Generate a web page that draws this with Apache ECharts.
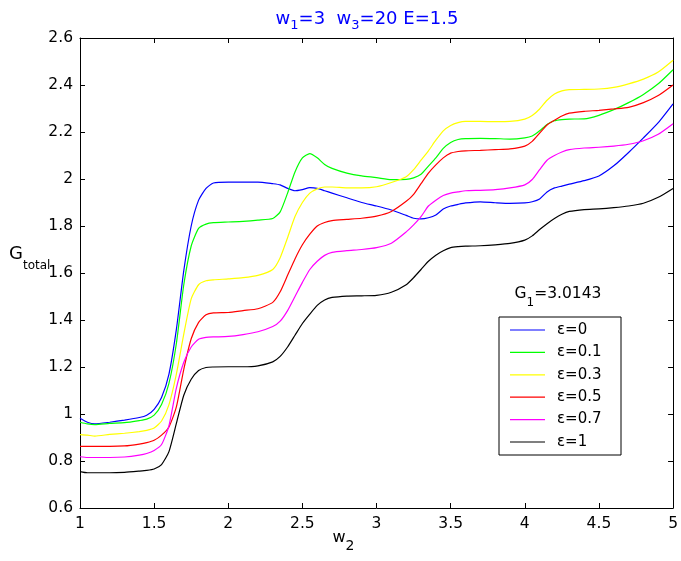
<!DOCTYPE html>
<html><head><meta charset="utf-8">
<script src="https://cdn.jsdelivr.net/npm/echarts@6/dist/echarts.min.js"></script>
<style>html,body{margin:0;padding:0;background:#fff}#c{width:681px;height:561px}</style>
</head><body><div id="c"></div><script>
const xValues = [1.0,1.05,1.1,1.2,1.3,1.4,1.45,1.5,1.55,1.6,1.65,1.7,1.75,1.8,1.85,1.9,2.0,2.1,2.2,2.3,2.35,2.4,2.45,2.5,2.55,2.6,2.65,2.7,2.8,2.9,3.0,3.1,3.2,3.25,3.3,3.35,3.4,3.45,3.5,3.55,3.6,3.7,3.8,3.9,4.0,4.05,4.1,4.15,4.2,4.25,4.3,4.4,4.5,4.6,4.7,4.8,4.9,5.0];
const eps0 = [0.982,0.965,0.958,0.965,0.974,0.985,0.995,1.02,1.07,1.17,1.36,1.61,1.80,1.91,1.96,1.983,1.987,1.987,1.987,1.98,1.975,1.96,1.95,1.955,1.963,1.96,1.95,1.94,1.92,1.90,1.885,1.868,1.845,1.833,1.83,1.835,1.847,1.872,1.885,1.892,1.898,1.903,1.899,1.896,1.898,1.903,1.915,1.945,1.962,1.97,1.978,1.993,2.013,2.056,2.113,2.175,2.24,2.32];
const eps01 = [0.965,0.958,0.955,0.96,0.963,0.972,0.978,0.995,1.04,1.13,1.30,1.55,1.715,1.79,1.808,1.814,1.817,1.82,1.825,1.832,1.86,1.94,2.03,2.09,2.108,2.09,2.062,2.045,2.025,2.013,2.006,1.997,1.998,2.005,2.02,2.055,2.09,2.13,2.155,2.168,2.172,2.173,2.172,2.17,2.175,2.183,2.205,2.232,2.248,2.253,2.255,2.256,2.271,2.295,2.325,2.36,2.405,2.465];
const eps03 = [0.912,0.91,0.906,0.913,0.918,0.925,0.93,0.94,0.97,1.04,1.17,1.34,1.49,1.55,1.567,1.571,1.575,1.58,1.59,1.615,1.665,1.75,1.84,1.90,1.94,1.958,1.966,1.966,1.962,1.962,1.967,1.985,2.01,2.04,2.08,2.12,2.165,2.205,2.228,2.24,2.245,2.245,2.244,2.245,2.255,2.27,2.298,2.335,2.362,2.375,2.38,2.381,2.383,2.39,2.405,2.425,2.455,2.505];
const eps05 = [0.862,0.862,0.862,0.862,0.864,0.872,0.878,0.888,0.91,0.945,1.03,1.19,1.32,1.39,1.422,1.43,1.432,1.44,1.448,1.475,1.52,1.59,1.66,1.72,1.765,1.80,1.815,1.823,1.828,1.833,1.842,1.862,1.905,1.935,1.98,2.025,2.06,2.09,2.11,2.117,2.12,2.122,2.125,2.128,2.14,2.16,2.195,2.23,2.25,2.268,2.28,2.288,2.292,2.298,2.305,2.325,2.355,2.40];
const eps07 = [0.818,0.815,0.815,0.815,0.817,0.825,0.832,0.845,0.87,0.95,1.11,1.22,1.285,1.318,1.326,1.328,1.33,1.338,1.35,1.372,1.395,1.44,1.50,1.56,1.615,1.65,1.675,1.688,1.695,1.70,1.708,1.727,1.775,1.805,1.84,1.885,1.91,1.93,1.94,1.945,1.95,1.952,1.955,1.962,1.975,1.998,2.04,2.08,2.10,2.115,2.125,2.132,2.135,2.14,2.148,2.163,2.19,2.235];
const eps1 = [0.755,0.75,0.75,0.75,0.752,0.757,0.76,0.766,0.785,0.84,0.96,1.08,1.148,1.185,1.198,1.20,1.201,1.201,1.205,1.222,1.245,1.285,1.335,1.385,1.425,1.462,1.485,1.496,1.502,1.503,1.505,1.518,1.55,1.58,1.615,1.65,1.676,1.695,1.708,1.712,1.714,1.716,1.72,1.726,1.74,1.758,1.785,1.81,1.832,1.85,1.862,1.87,1.873,1.878,1.885,1.897,1.922,1.96];
const seriesNames = ['ε=0','ε=0.1','ε=0.3','ε=0.5','ε=0.7','ε=1'];
const seriesValues = [eps0, eps01, eps03, eps05, eps07, eps1];
const xTicks = {min: 1, max: 5, interval: 0.5};
const yTicks = {min: 0.6, max: 2.6, interval: 0.2};

const colors = ['#0000ff','#00ff00','#ffff00','#ff0000','#ff00ff','#000000'];
const FF = '"DejaVu Sans", Verdana, sans-serif';

const chart = echarts.init(document.getElementById('c'));
const axisCommon = {
  type: 'value',
  axisLine: {show: true, lineStyle: {color: '#000', width: 1}},
  axisTick: {show: true, inside: true, length: 5, lineStyle: {color: '#000'}},
  splitLine: {show: false},
  axisLabel: {color: '#000', fontSize: 15.5, fontFamily: FF}
};
// subscript rich styles: n = normal, s = lowered subscript
const sub = (fs, sfs, L, h, col) => ({
  n: {fontSize: fs, fontFamily: FF, fill: col, lineHeight: L},
  s: {fontSize: sfs, fontFamily: FF, fill: col, lineHeight: h, verticalAlign: 'bottom'}
});

chart.setOption({
  animation: false,
  backgroundColor: '#fff',
  color: colors,
  grid: {left: 80, right: 4, top: 38, bottom: 53},
  xAxis: [
    Object.assign({}, axisCommon, xTicks, {position: 'bottom', axisLabel: Object.assign({}, axisCommon.axisLabel, {margin: 8})}),
    Object.assign({}, axisCommon, xTicks, {position: 'top', axisLabel: {show: false}})
  ],
  yAxis: [
    Object.assign({}, axisCommon, yTicks, {position: 'left', axisLabel: Object.assign({}, axisCommon.axisLabel, {margin: 7})}),
    Object.assign({}, axisCommon, yTicks, {position: 'right', axisLabel: {show: false}})
  ],
  legend: {
    orient: 'vertical', left: 499, top: 317,
    padding: [5, 16, 5, 11],
    itemGap: 6.4, itemWidth: 35, itemHeight: 1.2, icon: 'rect',
    borderColor: '#000', borderWidth: 1, borderRadius: 0,
    backgroundColor: '#fff',
    textStyle: {fontSize: 15, fontFamily: FF, color: '#000', lineHeight: 16, padding: [0,0,0,7], width: 48},
    data: seriesNames
  },
  graphic: [
    {type: 'text', x: 367, y: 19.5, style: {text: '{n|w}{s|1}{n|=3  w}{s|3}{n|=20 E=1.5}', rich: sub(18, 13, 26, 10, '#0000ff'), align: 'center', verticalAlign: 'middle'}},
    {type: 'text', x: 9, y: 254, style: {text: '{n|G}{s|total}', rich: sub(18, 12, 36, 10, '#000'), align: 'left', verticalAlign: 'middle'}},
    {type: 'text', x: 343.5, y: 537.5, style: {text: '{n|w}{s|2}', rich: sub(16, 14, 32, 10, '#000'), align: 'center', verticalAlign: 'middle'}},
    {type: 'text', x: 558, y: 294, style: {text: '{n|G}{s|1}{n|=3.0143}', rich: sub(15.5, 12, 30, 10, '#000'), align: 'center', verticalAlign: 'middle'}}
  ],
  series: seriesNames.map((name, i) => ({
    name: name,
    type: 'line',
    xAxisIndex: 0, yAxisIndex: 0,
    data: xValues.map((x, j) => [x, seriesValues[i][j]]),
    showSymbol: false, symbol: 'none',
    smooth: 0.2,
    lineStyle: {width: 1.2, color: colors[i]},
    itemStyle: {color: colors[i]}
  }))
});
</script></body></html>
